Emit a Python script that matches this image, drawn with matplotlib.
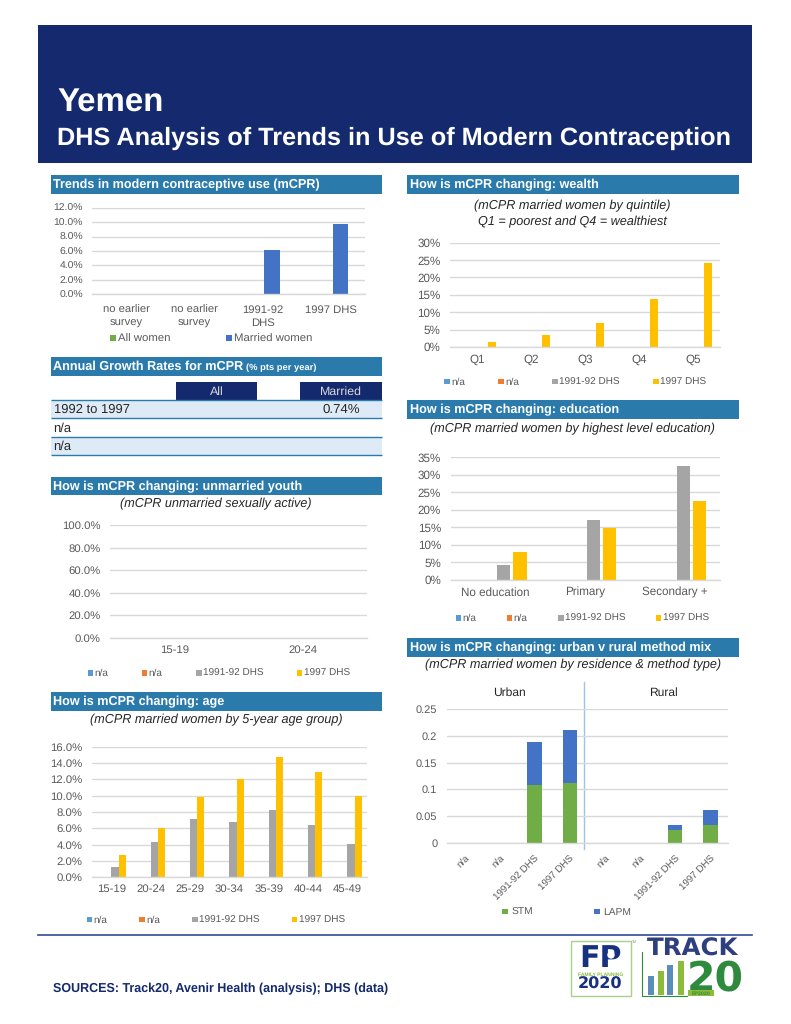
import numpy as np
import matplotlib
matplotlib.use("Agg")
import matplotlib.pyplot as plt
from matplotlib.patches import Rectangle
from matplotlib.ticker import FuncFormatter

plt.rcParams['font.family'] = ['Liberation Sans', 'DejaVu Sans']
plt.rcParams['text.hinting'] = 'no_hinting'
plt.rcParams['text.hinting_factor'] = 8
plt.rcParams['text.kerning_factor'] = 0

# ---------- data ----------
title = "Yemen"
subtitle = "DHS Analysis of Trends in Use of Modern Contraception"
sources = "SOURCES: Track20, Avenir Health (analysis); DHS (data)"

trend_cats = ["no earlier\nsurvey", "no earlier\nsurvey", "1991-92\nDHS", "1997 DHS"]
trend_married = [0, 0, 6.1, 9.8]

wealth_cats = ["Q1", "Q2", "Q3", "Q4", "Q5"]
wealth_1997 = [1.5, 3.5, 6.9, 13.9, 24.2]

edu_cats = ["No education", "Primary", "Secondary +"]
edu_1991 = [4.3, 17.2, 32.6]
edu_1997 = [8.0, 14.9, 22.5]

youth_cats = ["15-19", "20-24"]

age_cats = ["15-19", "20-24", "25-29", "30-34", "35-39", "40-44", "45-49"]
age_1991 = [1.3, 4.3, 7.2, 6.8, 8.3, 6.4, 4.1]
age_1997 = [2.7, 6.1, 9.8, 12.1, 14.7, 12.9, 9.9]

mix_cats = ["n/a", "n/a", "1991-92 DHS", "1997 DHS"] * 2
mix_stm = [0, 0, 0.109, 0.112, 0, 0, 0.024, 0.034]
mix_lapm = [0, 0, 0.079, 0.100, 0, 0, 0.009, 0.027]

growth_rows = ["1992 to 1997", "n/a", "n/a"]
growth_married = ["0.74%", "", ""]

# ---------- style ----------
W, H = 791, 1024
NAVY = "#152A6E"
BAR = "#2A7BAC"
TICK = "#595959"
GRID = "#D9D9D9"
BLUE, ORANGE, GREY, GOLD = "#5B9BD5", "#ED7D31", "#A5A5A5", "#FFC000"
GREEN, MBLUE = "#70AD47", "#4472C4"
PX = 0.72  # points per pixel at dpi 100

fig = plt.figure(figsize=(W / 100, H / 100), dpi=100, facecolor="white")
bg = fig.add_axes([0, 0, 1, 1], zorder=0)
bg.set_xlim(0, W)
bg.set_ylim(H, 0)
bg.axis("off")


def rect(x0, x1, y0, y1, color, z=1, **kw):
    bg.add_patch(Rectangle((x0, y0), x1 - x0, y1 - y0, facecolor=color, edgecolor="none", zorder=z, **kw))


def text(x, y, s, px=12.0, color=TICK, ha="left", va="center", z=5, **kw):
    return bg.text(x, y + 0.8, s, fontsize=px * PX, color=color, ha=ha, va=va, zorder=z, **kw)


def section(x0, x1, y0, y1, s):
    rect(x0, x1, y0, y1, BAR)
    text(x0 + 2.5, (y0 + y1) / 2, s, px=12.6, color="white", fontweight="bold")


def legend(y, items, gap=7, px=10.0):
    for x, color, label in items:
        rect(x, x + 5.5, y - 2.7, y + 2.7, color, z=3)
        text(x + gap, y, label, px=px)


def chart(left, right, top, bottom, cats, ymax, step, fmt, tick_px=11.5, pad=7, ypad=9.5):
    ax = fig.add_axes([left / W, 1 - bottom / H, (right - left) / W, (bottom - top) / H], zorder=2)
    ax.patch.set_alpha(0)
    ax.set_xlim(-0.5, len(cats) - 0.5)
    ax.set_ylim(0, ymax)
    ax.set_yticks(np.arange(0, ymax + step / 2, step))
    ax.yaxis.set_major_formatter(FuncFormatter(fmt))
    ax.set_xticks(range(len(cats)))
    ax.set_xticklabels(cats)
    ax.tick_params(length=0, labelsize=tick_px * PX, labelcolor=TICK)
    ax.tick_params(axis="x", pad=pad * PX)
    ax.tick_params(axis="y", pad=ypad * PX)
    ax.grid(axis="y", color=GRID, lw=1.0)
    ax.set_axisbelow(True)
    for sp in ax.spines.values():
        sp.set_visible(False)
    ax.spines["bottom"].set_visible(True)
    ax.spines["bottom"].set_color(GRID)
    ax.spines["bottom"].set_linewidth(1.0)
    return ax


pct0 = lambda v, _: f"{v:.0f}%"
pct1 = lambda v, _: f"{v:.1f}%"
dec = lambda v, _: "0" if v == 0 else f"{v:g}"

# ---------- header ----------
rect(38, 752, 25, 163, NAVY)
text(57, 102, title, px=33, color="white", fontweight="bold")
text(57, 137.5, subtitle, px=25.3, color="white", fontweight="bold")

# ---------- section bars ----------
LX0, LX1, RX0, RX1 = 50.7, 382.3, 407.3, 739.3
section(LX0, LX1, 175, 193.5, "Trends in modern contraceptive use (mCPR)")
section(LX0, LX1, 356.7, 375.7, "Annual Growth Rates for mCPR")
text(245.5, 367, "(% pts per year)", px=9.4, color="white", fontweight="bold")
section(LX0, LX1, 476.7, 495.3, "How is mCPR changing: unmarried youth")
section(LX0, LX1, 692, 710.7, "How is mCPR changing: age")
section(RX0, RX1, 175, 193.7, "How is mCPR changing: wealth")
section(RX0, RX1, 400, 418.7, "How is mCPR changing: education")
section(RX0, RX1, 638.3, 656.7, "How is mCPR changing: urban v rural method mix")

# ---------- subtitles ----------
SUB = dict(px=12.6, color="#262626", ha="center", style="italic")
text(572.7, 205.2, "(mCPR married women by quintile)", **SUB)
text(572.7, 221.2, "Q1 = poorest and Q4 = wealthiest", **SUB)
text(572.7, 427.8, "(mCPR married women by highest level education)", **SUB)
text(216, 503.5, "(mCPR unmarried sexually active)", **SUB)
text(216, 718.8, "(mCPR married women by 5-year age group)", **SUB)
text(572.7, 664.5, "(mCPR married women by residence & method type)", **SUB)

# ---------- trends ----------
ax = chart(92, 365, 207.7, 294.3, trend_cats, 12, 2, pct1, tick_px=10.4, pad=10.5, ypad=9)
ax.tick_params(axis="x", labelsize=11.2 * PX)
for lab in ax.get_xticklabels():
    lab.set_linespacing(1.3)
ax.bar(np.arange(4) + 0.137, trend_married, width=0.226, color=MBLUE)
legend(338, [(110, GREEN, "All women"), (226, MBLUE, "Married women")], gap=8, px=11.4)

# ---------- growth table ----------
rect(175.7, 257.3, 382.3, 400, NAVY)
rect(300, LX1, 382.3, 400, NAVY)
text(216.5, 391, "All", px=12.4, color="#D9D9D9", ha="center")
text(341, 391, "Married", px=12.4, color="#D9D9D9", ha="center")
row_edges = [400, 418.3, 436.5, 455]
for i, (lab, val) in enumerate(zip(growth_rows, growth_married)):
    mid = (row_edges[i] + row_edges[i + 1]) / 2
    if i % 2 == 0:
        rect(LX0, LX1, row_edges[i], row_edges[i + 1], "#DEEBF7")
    text(53.5, mid, lab, px=13, color="#262626")
    if val:
        text(360, mid, val, px=13.2, color="#262626", ha="right")
for y in row_edges:
    bg.plot([LX0, LX1], [y, y], color=BAR, lw=1.0, zorder=3, solid_capstyle="butt")

# ---------- wealth ----------
ax = chart(450, 720, 242.7, 347, wealth_cats, 30, 5, pct0, tick_px=11.6)
ax.bar(np.arange(5) + 0.272, wealth_1997, width=0.148, color=GOLD)
legend(381.7, [(444.3, BLUE, "n/a"), (498.3, ORANGE, "n/a"), (552.3, GREY, "1991-92 DHS"), (653.3, GOLD, "1997 DHS")])

# ---------- education ----------
ax = chart(450.7, 720, 457.3, 580, edu_cats, 35, 5, pct0, tick_px=11.6)
ax.bar(np.arange(3) + 0.09, edu_1991, width=0.145, color=GREY)
ax.bar(np.arange(3) + 0.272, edu_1997, width=0.145, color=GOLD)
legend(618, [(455.7, BLUE, "n/a"), (506.7, ORANGE, "n/a"), (558.3, GREY, "1991-92 DHS"), (655.7, GOLD, "1997 DHS")])

# ---------- youth ----------
ax = chart(110, 366.7, 525, 637.7, youth_cats, 100, 20, pct1, tick_px=11.4)
legend(673, [(87.7, BLUE, "n/a"), (141.7, ORANGE, "n/a"), (196, GREY, "1991-92 DHS"), (296.7, GOLD, "1997 DHS")])

# ---------- age ----------
ax = chart(91.7, 367, 746.7, 877.3, age_cats, 16, 2, pct1, tick_px=11.4)
ax.bar(np.arange(7) + 0.09, age_1991, width=0.185, color=GREY)
ax.bar(np.arange(7) + 0.275, age_1997, width=0.185, color=GOLD)
legend(919.3, [(86.7, BLUE, "n/a"), (139, ORANGE, "n/a"), (192, GREY, "1991-92 DHS"), (291.7, GOLD, "1997 DHS")])

# ---------- method mix ----------
ax = chart(446.7, 728, 709.3, 842.7, mix_cats, 0.25, 0.05, dec, tick_px=11)
ax.tick_params(axis="x", labelsize=9.8 * PX, pad=11 * PX)
ax.set_xticklabels(mix_cats, rotation=45, ha="right", rotation_mode="anchor")
ax.bar(range(8), mix_stm, width=0.41, color=GREEN)
ax.bar(range(8), mix_lapm, width=0.41, bottom=mix_stm, color=MBLUE)
bg.plot([584.3, 584.3], [681.7, 849], color="#9DC3E6", lw=1.0, zorder=3)
text(509, 691.5, "Urban", px=12, color="#262626", ha="center")
text(663, 691.5, "Rural", px=12, color="#262626", ha="center")
legend(911.7, [(502, GREEN, "STM"), (594, MBLUE, "LAPM")], gap=9.5, px=10.2)

# ---------- footer ----------
bg.plot([38, 752], [934.5, 934.5], color="#2F4A9A", lw=1.2, zorder=3)
text(53, 988.5, sources, px=12.5, color=NAVY, fontweight="bold")

# FP2020 logo
LOGO_G = "#A9D18E"
DV = dict(family="DejaVu Sans", fontweight="bold")
bg.add_patch(Rectangle((570.5, 941), 60.5, 55, facecolor="white", edgecolor=LOGO_G, lw=1.0, zorder=3))
text(600.5, 957.5, "FP", px=30, color="#17307F", ha="center", **DV)
bg.add_patch(plt.Circle((611, 955), 3, color="white", zorder=6))
text(600.5, 973.5, "FAMILY PLANNING", px=5, color="#8DBB3C", ha="center", fontweight="bold", z=7)
text(600.5, 983.5, "2020", px=16, color="#17307F", ha="center", **DV)
text(632, 941, "TM", px=3.5, color="#888888")

# Track20 logo
text(692.5, 948.5, "TRACK", px=24.5, color="#2E3F7F", ha="center", **DV)
TG = "#2E8B3D"
bg.plot([642, 642, 687], [952, 995.7, 995.7], color=TG, lw=0.8, zorder=3)
for x0, top, c in [(648.3, 975.7, "#5B8DB8"), (657.7, 971, "#8DBB3C"), (667.3, 965, "#5B8DB8"), (677.7, 960.7, "#8DBB3C")]:
    rect(x0, x0 + 6, top, 995, c, z=3)
text(715.5, 979, "20", px=41, color=TG, ha="center", **DV)
rect(688, 714, 990, 996, "#8DBB3C", z=6)
text(701, 992.5, "FP2020", px=5.4, color=TG, ha="center", fontweight="bold", z=7)

fig.savefig("out.png", dpi=100, facecolor="white")
